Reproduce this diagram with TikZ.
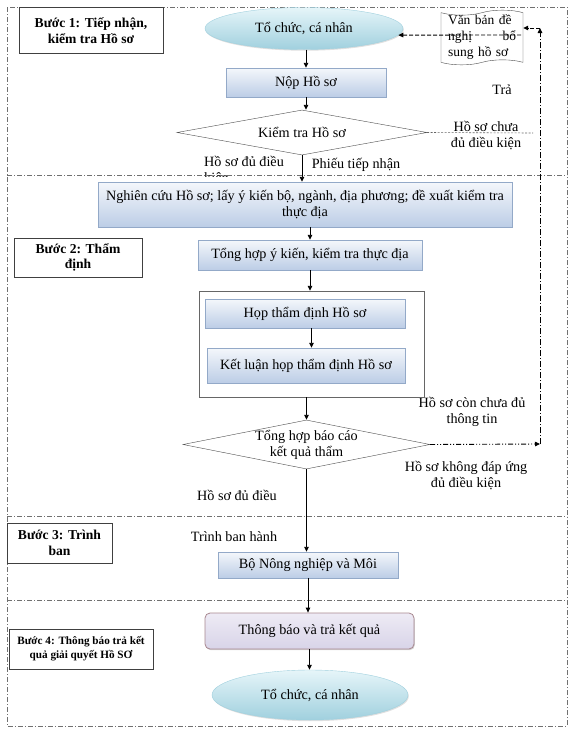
\documentclass[tikz,border=0pt]{standalone}
\usepackage{fontspec}
\setmainfont{Liberation Serif}
\usetikzlibrary{positioning}
\usetikzlibrary{shapes.geometric}
\usetikzlibrary{shapes.symbols}
\usetikzlibrary{arrows.meta}
\usetikzlibrary{shadows}
\definecolor{boxtop}{HTML}{F4F7FB}
\definecolor{boxbot}{HTML}{BCCDE6}
\definecolor{boxline}{HTML}{93A9C8}
\definecolor{elltop}{HTML}{E6F5F9}
\definecolor{ellbot}{HTML}{A0D0DE}
\definecolor{notetop}{HTML}{EEEBF5}
\definecolor{notebot}{HTML}{D8D4E8}
\definecolor{noteline}{HTML}{A8878F}
\definecolor{framegray}{HTML}{707070}

\begin{document}
\begin{tikzpicture}[x=1pt, y=-1pt,
  every node/.style={font=\fontsize{14.2}{16}\selectfont},
  stepbox/.style={draw=black!75, line width=0.8pt, fill=white, align=center, inner sep=0pt, font=\fontsize{13.6}{15.5}\selectfont\bfseries},
  procbox/.style={draw=boxline, top color=boxtop, bottom color=boxbot, align=center, inner sep=0pt, drop shadow={shadow xshift=0.8pt, shadow yshift=-1.2pt, opacity=0.35}},
  endell/.style={ellipse, draw=ellbot, top color=elltop, bottom color=ellbot, inner sep=0pt, drop shadow={shadow xshift=0.8pt, shadow yshift=-1.2pt, opacity=0.25}},
  notebox/.style={rounded corners=5pt, draw=noteline, line width=0.8pt, top color=notetop, bottom color=notebot, inner sep=0pt, drop shadow={shadow xshift=0.8pt, shadow yshift=-1.2pt, opacity=0.35}},
  check/.style={diamond, draw=black!70, fill=white, inner sep=0pt},
  checktext/.style={align=center, inner sep=0pt},
  docshape/.style={tape, draw=black!70, fill=white, inner sep=0pt, align=left, font=\fontsize{13.5}{16}\selectfont},
  frameline/.style={framegray, dash pattern=on 5pt off 2pt on 1pt off 2pt, line width=0.6pt},
  arr/.style={-{Triangle[length=5pt,width=4.5pt]}, line width=0.9pt},
  loopdash/.style={-{Triangle[length=5pt,width=4.5pt]}, line width=0.9pt, dash pattern=on 6pt off 2pt on 1pt off 2pt},
  loopdots/.style={-{Triangle[length=5pt,width=4.5pt]}, line width=0.9pt, dash pattern=on 5pt off 2pt on 1pt off 2pt on 1pt off 2pt},
  backdash/.style={-{Triangle[length=5pt,width=4.5pt]}, line width=0.9pt, dash pattern=on 4pt off 2pt},
  dotline/.style={black!60, line width=0.6pt, dash pattern=on 2pt off 1.5pt}
]
\useasboundingbox (0,0) rectangle (575,739);

% frame and step separators
\draw[frameline] (7,7) rectangle (567,726);
\draw[frameline] (7,175) -- (567,175);
\draw[frameline] (7,516) -- (567,516);
\draw[frameline] (7,600) -- (567,600);

% step boxes
\node[stepbox, minimum width=144, minimum height=46] (step1) at (91,30.5) {Bước 1: Tiếp nhận,\\kiểm tra Hồ sơ};
\node[stepbox, minimum width=128, minimum height=39] (step2) at (78,257.5) {Bước 2: Thẩm\\định};
\node[stepbox, minimum width=105, minimum height=40] (step3) at (59.5,543) {Bước 3: Trình\\ban};
\node[stepbox, minimum width=144, minimum height=40, font=\fontsize{11.2}{14}\selectfont\bfseries] (step4) at (81,649) {Bước 4: Thông báo trả kết\\quả giải quyết Hồ SƠ};

% labels
\begin{scope}
\clip (190,150) rectangle (300,176);
\node[align=left, anchor=west, inner sep=0pt] (okone) at (204,170.5) {Hồ sơ đủ điều\\kiện};
\end{scope}
\node (receipt) at (356,165) {Phiếu tiếp nhận};
\node[align=center] (notready) at (486,135.5) {Hồ sơ chưa\\đủ điều kiện};
\node (back) at (502,90) {Trả};
\node[align=center] (missing) at (472,412) {Hồ sơ còn chưa đủ\\thông tin};
\node[align=center] (failed) at (466,475.5) {Hồ sơ không đáp ứng\\đủ điều kiện};
\node (oktwo) at (237,495) {Hồ sơ đủ điều};
\node (issue) at (234,537) {Trình ban hành};

% main flow
\node[endell, minimum width=198, minimum height=42] (orgtop) at (304,28.5) {Tổ chức, cá nhân};
\node[procbox, minimum width=160, minimum height=29] (submit) at (306,82.5) {Nộp Hồ sơ};
\node[check, minimum width=250, minimum height=45, label={[checktext]center:Kiểm tra Hồ sơ}] (check) at (302,132.5) {};
\node[procbox, minimum width=414, minimum height=45] (study) at (305,204.5) {Nghiên cứu Hồ sơ; lấy ý kiến bộ, ngành, địa phương; đề xuất kiểm tra\\thực địa};
\node[procbox, minimum width=224, minimum height=30] (merge) at (310,255) {Tổng hợp ý kiến, kiểm tra thực địa};
\node[draw=black!60, minimum width=225, minimum height=106, inner sep=0pt] (meetframe) at (311.5,344) {};
\node[procbox, minimum width=200, minimum height=29] (meet) at (305,313.5) {Họp thẩm định Hồ sơ};
\node[procbox, minimum width=198, minimum height=35] (conclude) at (306,365.5) {Kết luận họp thẩm định Hồ sơ};
\node[check, minimum width=247, minimum height=49, label={[checktext]center:Tổng hợp báo cáo\\kết quả thẩm}] (report) at (306.5,444.5) {};
\node[procbox, minimum width=180, minimum height=26] (ministry) at (308,565) {Bộ Nông nghiệp và Môi};
\node[notebox, minimum width=209, minimum height=36] (notify) at (309.5,631) {Thông báo và trả kết quả};
\node[endell, minimum width=196, minimum height=50] (orgbot) at (310,695) {Tổ chức, cá nhân};

% request document
\node[docshape, minimum width=82, minimum height=51, text width=68] (request) at (482,37.5) {Văn bản đề\\nghị\hfill bổ\\sung hồ sơ};

\draw[arr] (orgtop.south -| submit) -- (submit.north);
\draw[arr] (submit.south) -- (submit.south |- check.north);
\draw[arr] (check.south) -- (check.south |- study.north);
\draw[arr] (study.south -| merge) -- (merge.north);
\draw[arr] (merge.south) -- (merge.south |- meetframe.north);
\draw[arr] (meet.south -| meetframe) -- (conclude.north -| meetframe);
\draw[arr] (meetframe.south -| report) -- (report.north);
\draw[arr] (report.south) -- (report.south |- ministry.north);
\draw[arr] (ministry.south) -- (ministry.south |- notify.north);
\draw[arr] (notify.south) -- (notify.south |- orgbot.north);

% return path
\coordinate (notreadyend) at (533,133);
\coordinate (loopbot) at (540,444);
\coordinate (looptop) at (540,28);
\coordinate (docR) at (521,35);
\draw[dotline] (check.east) -- (notreadyend);
\draw[loopdots] (report.east) -- (loopbot);
\draw[loopdash] (loopbot) -- (looptop);
\draw[backdash] (looptop) -- (request.east |- looptop);
\draw[backdash] (docR) -- (orgtop.-4);

\end{tikzpicture}
\end{document}
